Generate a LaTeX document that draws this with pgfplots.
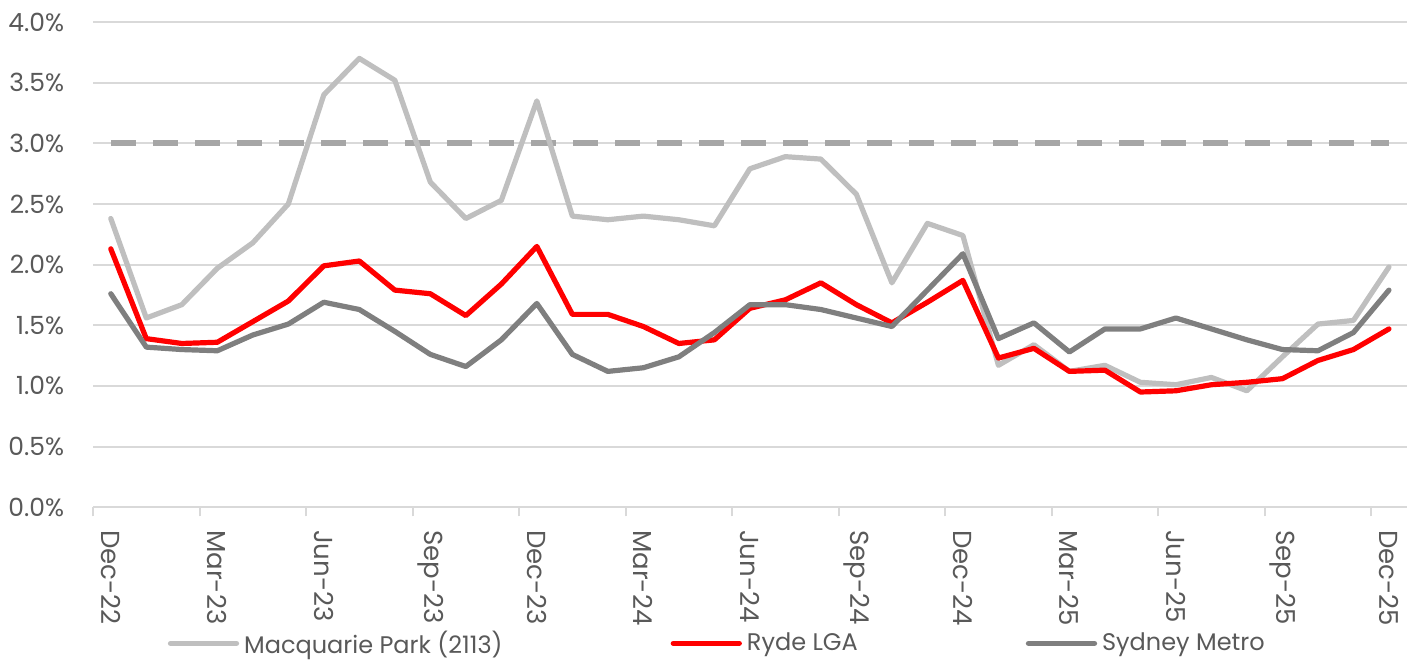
\documentclass[border=0pt]{standalone}
\usepackage{fontspec}
\setmainfont{Poppins}
\usepackage{pgfplots}
\pgfplotsset{compat=1.18}
\usetikzlibrary{calc}
\definecolor{txt}{HTML}{595959}
\definecolor{gridc}{HTML}{D9D9D9}
\definecolor{macq}{HTML}{BFBFBF}
\definecolor{ryde}{HTML}{FF0000}
\definecolor{metro}{HTML}{7F7F7F}
\definecolor{target}{HTML}{A6A6A6}

% month index 0 = Dec-22 ... 36 = Dec-25
\pgfplotstableread{
m macq ryde metro
0 2.38 2.13 1.76
1 1.56 1.39 1.32
2 1.67 1.35 1.30
3 1.97 1.36 1.29
4 2.18 1.53 1.42
5 2.50 1.70 1.51
6 3.40 1.99 1.69
7 3.70 2.03 1.63
8 3.52 1.79 1.45
9 2.68 1.76 1.26
10 2.38 1.58 1.16
11 2.53 1.84 1.38
12 3.35 2.15 1.68
13 2.40 1.59 1.26
14 2.37 1.59 1.12
15 2.40 1.49 1.15
16 2.37 1.35 1.24
17 2.32 1.38 1.44
18 2.79 1.64 1.67
19 2.89 1.71 1.67
20 2.87 1.85 1.63
21 2.58 1.67 1.56
22 1.85 1.52 1.49
23 2.34 1.69 1.79
24 2.24 1.87 2.09
25 1.17 1.23 1.39
26 1.34 1.31 1.52
27 1.12 1.12 1.28
28 1.17 1.13 1.47
29 1.03 0.95 1.47
30 1.01 0.96 1.56
31 1.07 1.01 1.47
32 0.96 1.03 1.38
33 1.24 1.06 1.30
34 1.51 1.21 1.29
35 1.54 1.30 1.44
36 1.98 1.47 1.79
}\datatable

\begin{document}
\begin{tikzpicture}
\begin{axis}[
  scale only axis, width=656.5pt, height=242.5pt,
  xmin=-0.5, xmax=36.5, ymin=0, ymax=4,
  axis x line*=bottom, axis y line*=left,
  x axis line style={draw=gridc, line width=1pt},
  y axis line style={draw=none},
  xtick={0,3,...,36},
  xticklabels={Dec-22,Mar-23,Jun-23,Sep-23,Dec-23,Mar-24,Jun-24,Sep-24,Dec-24,Mar-25,Jun-25,Sep-25,Dec-25},
  minor xtick={-0.5,2.5,...,35.5},
  xtick style={draw=none},
  minor x tick style={draw=gridc, line width=1pt},
  minor tick length=4.5pt, tick align=outside,
  ytick={0,0.5,...,4},
  ytick style={draw=none},
  ymajorgrids, grid style={draw=gridc, line width=1pt},
  yticklabel={\pgfmathprintnumber[fixed,fixed zerofill,precision=1,assume math mode=true]{\tick}\%},
  tick label style={text=txt, inner sep=0pt},
  xticklabel style={font=\fontsize{13}{15}\selectfont, rotate=-90, anchor=west},
  xticklabel shift=7pt,
  yticklabel style={font=\fontsize{12.5}{15}\selectfont, anchor=east},
  yticklabel shift=10pt,
  legend columns=3,
  legend style={at={(rel axis cs:0.476,0)}, anchor=center, yshift=-68pt,
    draw=none, fill=none, font=\fontsize{12}{14}\selectfont, text=txt,
    /tikz/every even column/.append style={column sep=82pt},
    /tikz/every odd column/.append style={column sep=0.5pt}},
  legend image code/.code={\draw[#1, line cap=round] (0pt,0pt) -- (33pt,0pt);},
  every axis plot/.append style={line width=2.6pt, line join=round, line cap=round},
]
\coordinate (bl) at (rel axis cs:0,0);
\coordinate (tr) at (rel axis cs:1,1);
\addplot[draw=target, line width=2.85pt, line cap=butt, dash pattern=on 12.35pt off 8.65pt, forget plot] coordinates {(0,3) (36,3)};
\addplot[draw=macq] table[x=m, y=macq] {\datatable};
\addlegendentry{Macquarie Park (2113)}
\addplot[draw=ryde] table[x=m, y=ryde] {\datatable};
\addlegendentry{Ryde LGA}
\addplot[draw=metro] table[x=m, y=metro] {\datatable};
\addlegendentry{Sydney Metro}
\end{axis}
\pgfresetboundingbox
\path[use as bounding box] ($(bl)+(-46.5pt,-76.5pt)$) rectangle ($(tr)+(4.65pt,11pt)$);
\end{tikzpicture}
\end{document}
